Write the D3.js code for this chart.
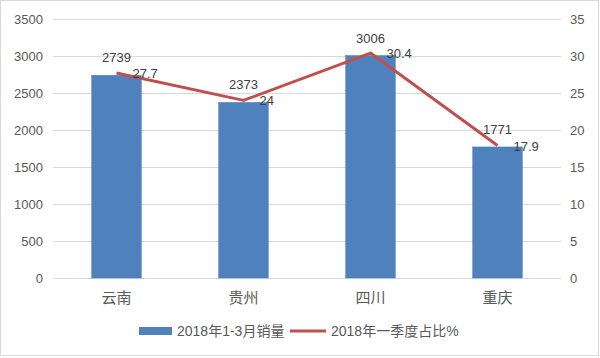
<!DOCTYPE html>
<html><head><meta charset="utf-8">
<script src="https://cdn.jsdelivr.net/npm/d3@7"></script>
<style>
body{margin:0;background:#fff;}
text{font-family:"Liberation Sans","Noto Sans CJK SC",sans-serif;}
</style></head>
<body><svg id="c" width="600" height="358"></svg>
<script>
const categories = ["云南","贵州","四川","重庆"];
const sales = [2739,2373,3006,1771];
const share = [27.7,24,30.4,17.9];
const leftTicks = [0,500,1000,1500,2000,2500,3000,3500];
const rightTicks = [0,5,10,15,20,25,30,35];
const seriesNames = ["2018年1-3月销量","2018年一季度占比%"];

const svg = d3.select("#c");
svg.append("rect").attr("x",0.5).attr("y",0.5).attr("width",598).attr("height",355)
  .attr("fill","#fff").attr("stroke","#d9d9d9");

const pL=53,pR=561,pT=19,pB=278;
const x = d3.scaleBand().domain(categories).range([pL,pR]).paddingInner(0.61).paddingOuter(0.305);
const y = d3.scaleLinear().domain([0,3500]).range([pB,pT]);
const y2 = d3.scaleLinear().domain([0,35]).range([pB,pT]);
const cx = d => x(d)+x.bandwidth()/2;

svg.append("g").selectAll("line").data(leftTicks).join("line")
  .attr("x1",pL).attr("x2",pR).attr("y1",d=>y(d)+0.5).attr("y2",d=>y(d)+0.5)
  .attr("stroke","#d9d9d9").attr("stroke-width",1);

const gl = svg.append("g").attr("transform",`translate(${pL},0)`)
  .call(d3.axisLeft(y).tickValues(leftTicks).tickFormat(d3.format("d")).tickSize(0).tickPadding(10));
gl.select(".domain").remove();
gl.selectAll("text").attr("fill","#595959").attr("font-size",13).style("font-family","Liberation Sans");

const gr = svg.append("g").attr("transform",`translate(${pR},0)`)
  .call(d3.axisRight(y2).tickValues(rightTicks).tickFormat(d3.format("d")).tickSize(0).tickPadding(9));
gr.select(".domain").remove();
gr.selectAll("text").attr("fill","#595959").attr("font-size",13).style("font-family","Liberation Sans");

const gx = svg.append("g").attr("transform",`translate(0,${pB})`)
  .call(d3.axisBottom(x).tickSize(0).tickPadding(14));
gx.select(".domain").remove();
gx.selectAll("text").attr("fill","#595959").attr("font-size",15).style("font-family","Noto Sans CJK SC");

svg.append("g").selectAll("rect").data(sales).join("rect")
  .attr("x",(d,i)=>x(categories[i])).attr("width",x.bandwidth())
  .attr("y",d=>y(d)).attr("height",d=>pB-y(d))
  .attr("fill","#4f81bd").attr("stroke","#4a7ab5").attr("stroke-width",0.5);

const line = d3.line().x((d,i)=>cx(categories[i])).y(d=>y2(d));
svg.append("path").datum(share).attr("d",line).attr("fill","none")
  .attr("stroke","#c0504d").attr("stroke-width",3).attr("stroke-linejoin","round");

svg.append("g").selectAll("text").data(sales).join("text")
  .attr("x",(d,i)=>cx(categories[i])).attr("y",d=>y(d)-13)
  .attr("text-anchor","middle").attr("font-size",13).attr("fill","#404040").text(d=>d);
svg.append("g").selectAll("text").data(share).join("text")
  .attr("x",(d,i)=>cx(categories[i])+16).attr("y",d=>y2(d)+5)
  .attr("text-anchor","start").attr("font-size",13).attr("fill","#404040").text(d=>d);

const lg = svg.append("g");
lg.append("rect").attr("x",139).attr("y",327).attr("width",33).attr("height",8).attr("fill","#4f81bd");
lg.append("text").attr("x",177).attr("y",336).attr("font-size",14).attr("fill","#595959").text(seriesNames[0]);
lg.append("line").attr("x1",290).attr("x2",326).attr("y1",331).attr("y2",331).attr("stroke","#c0504d").attr("stroke-width",3);
lg.append("text").attr("x",331).attr("y",336).attr("font-size",14).attr("fill","#595959").text(seriesNames[1]);
</script></body></html>
